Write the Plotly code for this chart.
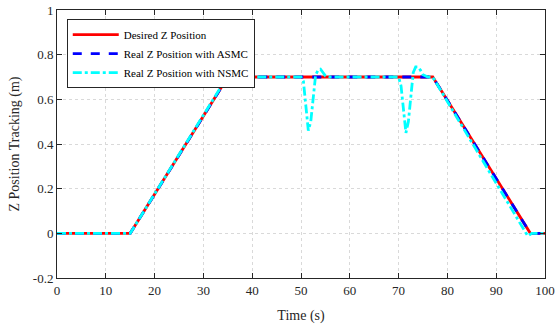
import plotly.graph_objects as go

t_des = [0, 15, 35, 77, 97, 100]
z_des = [0, 0, 0.7, 0.7, 0, 0]

t_asmc = [0, 15, 35, 77, 97, 100]
z_asmc = [0, 0, 0.7, 0.7, 0, 0]

t_nsmc = [0, 15, 35, 36, 50, 50.5, 51, 51.5, 52, 52.5, 53, 53.5, 54, 54.5, 55, 56,
          70, 70.5, 71, 71.5, 72, 72.5, 73, 73.5, 74, 74.5, 75, 76, 77, 96, 96.5, 97.3, 100]
z_nsmc = [0, 0, 0.705, 0.7, 0.7, 0.68, 0.57, 0.46, 0.5, 0.62, 0.71, 0.73, 0.735, 0.72, 0.705, 0.7,
          0.7, 0.66, 0.55, 0.45, 0.5, 0.63, 0.72, 0.745, 0.745, 0.73, 0.71, 0.7, 0.7, 0.005, -0.012, 0.0, 0.0]

xticks = [0, 10, 20, 30, 40, 50, 60, 70, 80, 90, 100]
yticks = [-0.2, 0, 0.2, 0.4, 0.6, 0.8, 1]
ytick_labels = ["-0.2", "0", "0.2", "0.4", "0.6", "0.8", "1"]

fig = go.Figure()
fig.add_trace(go.Scatter(x=t_des, y=z_des, mode="lines", name="Desired Z Position",
                         line=dict(color="#ff0000", width=2.8)))
fig.add_trace(go.Scatter(x=t_asmc, y=z_asmc, mode="lines", name="Real Z Position with ASMC",
                         line=dict(color="#0000ff", width=2.8, dash="dash")))
fig.add_trace(go.Scatter(x=t_nsmc, y=z_nsmc, mode="lines", name="Real Z Position with NSMC",
                         line=dict(color="#00ffff", width=2.8, dash="dashdot")))

axis_common = dict(showline=True, linecolor="#262626", linewidth=1, mirror="ticks",
                   ticks="inside", ticklen=5, tickcolor="#262626", automargin=False,
                   showgrid=True, gridcolor="#d9d9d9", griddash="dot", gridwidth=1,
                   zeroline=False, tickfont=dict(family="Liberation Serif", size=13, color="#262626"))

fig.update_xaxes(range=[0, 100], tickvals=xticks,
                 title=dict(text="Time (s)", font=dict(family="Liberation Serif", size=14, color="#262626"), standoff=13),
                 **axis_common)
fig.update_yaxes(range=[-0.2, 1], tickvals=yticks, ticktext=ytick_labels,
                 title=dict(text="Z Position Tracking (m)", font=dict(family="Liberation Serif", size=14, color="#262626"), standoff=9),
                 **axis_common)

fig.update_layout(
    width=555, height=331,
    margin=dict(l=57, r=10, t=10, b=53),
    paper_bgcolor="white", plot_bgcolor="white",
    showlegend=True,
    legend=dict(x=0.02, y=0.966, xanchor="left", yanchor="top",
                bgcolor="white", bordercolor="#262626", borderwidth=1,
                font=dict(family="Liberation Serif", size=11, color="#000000"),
                tracegroupgap=0, itemwidth=46),
)

fig.write_html("out.html")
